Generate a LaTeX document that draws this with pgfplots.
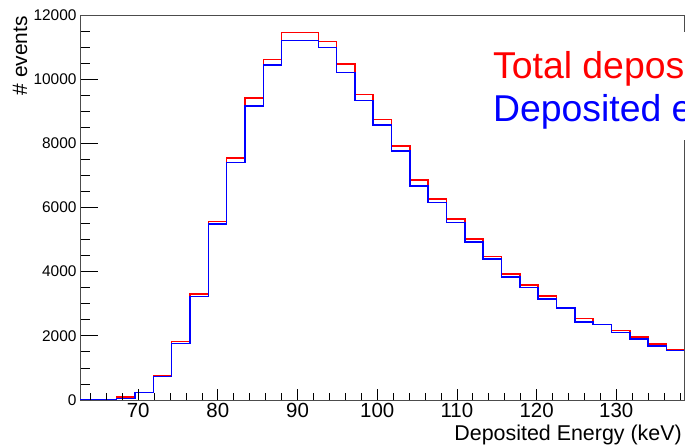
\documentclass[border=0pt]{standalone}
\usepackage{fontspec}
\setmainfont{Liberation Sans}
\usepackage{pgfplots}
\pgfplotsset{compat=1.18}
\begin{document}
\begin{tikzpicture}
\pgfplotsset{
  common/.style={
    at={(80bp,48bp)}, anchor=south west,
    scale only axis, width=604bp, height=385bp,
    xmin=62.7, xmax=138.5, ymin=0, ymax=12000,
    tick align=inside, xtick pos=bottom, ytick pos=left,
    scaled y ticks=false, scaled x ticks=false,
    /pgf/number format/assume math mode=true,
    /pgf/number format/set thousands separator={},
    every tick/.style={black, line width=0.8bp},
  }
}
\begin{axis}[common,
  axis line style={draw=black!70, line width=0.8bp},
  xtick=\empty,
  ytick={0,2000,4000,6000,8000,10000,12000},
  minor ytick={500,1000,1500,2500,3000,3500,4500,5000,5500,6500,7000,7500,8500,9000,9500,10500,11000,11500},
  major tick length=18bp, minor tick length=10bp,
  yticklabel style={font=\fontsize{15.5}{17}\selectfont},
]
\addplot[const plot mark left, red, line width=1.5bp] coordinates {
(62.7,0) (65.0,0) (67.3,90) (69.6,240) (71.9,770) (74.2,1830) (76.5,3300)
(78.8,5560) (81.1,7540) (83.4,9410) (85.7,10610) (88.0,11450) (90.3,11450)
(92.6,11170) (94.9,10480) (97.2,9520) (99.5,8750) (101.8,7910) (104.1,6860)
(106.4,6270) (108.7,5640) (111.0,5020) (113.3,4470) (115.6,3920) (117.9,3590)
(120.2,3240) (122.5,2870) (124.8,2540) (127.1,2360) (129.4,2160) (131.7,1970)
(134.0,1740) (136.3,1580) (138.6,1580)
};
\addplot[const plot mark left, blue, line width=1.5bp] coordinates {
(62.7,0) (65.0,0) (67.3,40) (69.6,230) (71.9,730) (74.2,1760) (76.5,3230)
(78.8,5490) (81.1,7400) (83.4,9160) (85.7,10440) (88.0,11210) (90.3,11210)
(92.6,10990) (94.9,10210) (97.2,9340) (99.5,8570) (101.8,7760) (104.1,6670)
(106.4,6150) (108.7,5530) (111.0,4920) (113.3,4400) (115.6,3830) (117.9,3510)
(120.2,3150) (122.5,2860) (124.8,2430) (127.1,2350) (129.4,2100) (131.7,1900)
(134.0,1690) (136.3,1550) (138.6,1550)
};
\end{axis}
\begin{axis}[common,
  axis line style={draw=none},
  ytick=\empty,
  xtick={70,80,90,100,110,120,130},
  minor xtick={64,66,68,72,74,76,78,82,84,86,88,92,94,96,98,102,104,106,108,112,114,116,118,122,124,126,128,132,134,136,138},
  major tick length=11bp, minor tick length=7bp,
  xticklabel style={font=\fontsize{20.5}{22}\selectfont},
]
\addplot[draw=none] coordinates {(70,0)};
\end{axis}
\fill[white] (480bp,308bp) rectangle (720bp,416bp);
\node[anchor=base west, inner sep=0pt, text=red, font=\fontsize{37.5}{42}\selectfont] at (493bp,369bp) {Total deposited energy};
\node[anchor=base west, inner sep=0pt, text=blue, font=\fontsize{37.5}{42}\selectfont] at (493bp,326bp) {Deposited energy};
\node[rotate=90, anchor=base east, inner sep=0pt, font=\fontsize{21}{24}\selectfont] at (27bp,432bp) {\# events};
\node[anchor=base east, inner sep=0pt, font=\fontsize{21.5}{24}\selectfont] at (682bp,8bp) {Deposited Energy (keV)};
\pgfresetboundingbox
\useasboundingbox (0,0) rectangle (685bp,448bp);
\end{tikzpicture}
\end{document}
